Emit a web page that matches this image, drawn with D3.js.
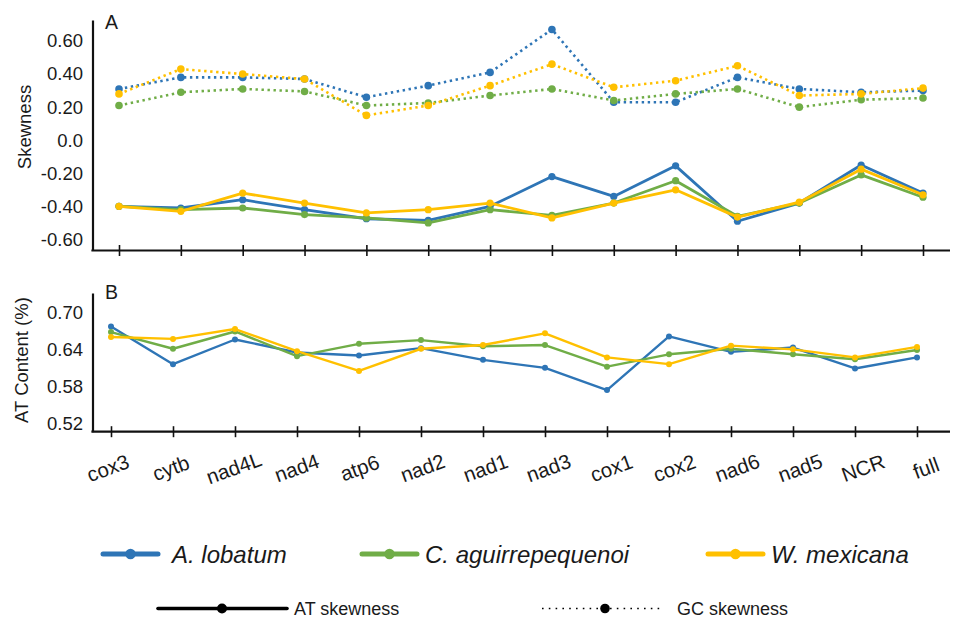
<!DOCTYPE html>
<html>
<head>
<meta charset="utf-8">
<script src="https://cdn.jsdelivr.net/npm/d3@7"></script>
<style>
  html, body { margin: 0; padding: 0; background: #fff; }
  svg { display: block; font-family: "Liberation Sans", Arial, sans-serif; }
</style>
</head>
<body>
<svg id="chart" width="959" height="617"></svg>
<script>
// ---------------- data ----------------
const categories = ["cox3","cytb","nad4L","nad4","atp6","nad2","nad1","nad3","cox1","cox2","nad6","nad5","NCR","full"];
const species = ["A. lobatum", "C. aguirrepequenoi", "W. mexicana"];
const speciesColors = ["#2E75B6", "#70AD47", "#FFC000"];

const atSkewLobatum  = [-0.40,-0.41,-0.36,-0.42,-0.475,-0.485,-0.40,-0.22,-0.34,-0.155,-0.49,-0.38,-0.15,-0.32];
const atSkewAguirre  = [-0.40,-0.42,-0.41,-0.45,-0.47,-0.50,-0.42,-0.455,-0.38,-0.245,-0.46,-0.38,-0.21,-0.345];
const atSkewMexicana = [-0.40,-0.43,-0.32,-0.38,-0.44,-0.42,-0.38,-0.47,-0.38,-0.30,-0.465,-0.375,-0.175,-0.33];

const gcSkewLobatum  = [0.31,0.38,0.38,0.37,0.26,0.33,0.41,0.67,0.23,0.23,0.38,0.31,0.29,0.30];
const gcSkewAguirre  = [0.21,0.29,0.31,0.295,0.21,0.225,0.27,0.31,0.24,0.28,0.31,0.20,0.245,0.255];
const gcSkewMexicana = [0.28,0.43,0.40,0.37,0.15,0.21,0.33,0.46,0.32,0.36,0.45,0.27,0.28,0.315];

const atContentLobatum  = [0.678,0.617,0.657,0.636,0.631,0.643,0.624,0.611,0.575,0.662,0.637,0.644,0.610,0.628];
const atContentAguirre  = [0.669,0.642,0.670,0.630,0.650,0.656,0.646,0.648,0.613,0.633,0.642,0.633,0.625,0.640];
const atContentMexicana = [0.661,0.658,0.674,0.638,0.606,0.642,0.648,0.667,0.628,0.617,0.647,0.641,0.628,0.645];

const skewTicks = [0.6, 0.4, 0.2, 0, -0.2, -0.4, -0.6];
const skewTickLabels = ["0.60","0.40","0.20","0.0","-0.20","-0.40","-0.60"];
const contentTicks = [0.70, 0.64, 0.58, 0.52];
const contentTickLabels = ["0.70","0.64","0.58","0.52"];

// ---------------- layout ----------------
const svg = d3.select("#chart");
const axisX = 92.5, axisRight = 950;
const textColor = "#1a1a1a";

const xA = d3.scalePoint().domain(categories).range([119, 923]);
const xB = d3.scalePoint().domain(categories).range([111, 917]);
const xLabel = d3.scalePoint().domain(categories).range([108, 926]);

const yA = d3.scaleLinear().domain([-0.667, 0.727]).range([250.5, 20]);
const yB = d3.scaleLinear().domain([0.5075, 0.7324]).range([431.7, 293]);

function drawPanel(x, y, bottom, top, ticks, tickLabels) {
  // y axis
  const gy = svg.append("g").attr("transform", `translate(${axisX},0)`)
    .call(d3.axisLeft(y).tickValues(ticks).tickSize(0).tickPadding(9.5)
      .tickFormat((d, i) => tickLabels[i]));
  gy.select(".domain").attr("stroke", "#111").attr("stroke-width", 2.2);
  gy.selectAll("text").attr("font-size", 18.5).attr("fill", textColor)
    .attr("font-family", "Liberation Sans, Arial, sans-serif");

  // x axis
  const gx = svg.append("g").attr("transform", `translate(0,${bottom})`)
    .call(d3.axisBottom(x).tickFormat("").tickSizeOuter(0));
  gx.select(".domain").remove();
  gx.selectAll(".tick line").attr("y1", -5.5).attr("y2", 5.5)
    .attr("stroke", "#111").attr("stroke-width", 1.6);
  svg.append("line").attr("x1", axisX - 1.1).attr("x2", axisRight)
    .attr("y1", bottom).attr("y2", bottom)
    .attr("stroke", "#111").attr("stroke-width", 2.2);
}

drawPanel(xA, yA, 250.5, 20, skewTicks, skewTickLabels);
drawPanel(xB, yB, 431.7, 293, contentTicks, contentTickLabels);

// panel letters
svg.append("text").attr("x", 105).attr("y", 28.5).text("A")
  .attr("font-size", 19.5).attr("fill", textColor);
svg.append("text").attr("x", 105).attr("y", 298.5).text("B")
  .attr("font-size", 19.5).attr("fill", textColor);

// axis titles
svg.append("text").attr("transform", "translate(31,127) rotate(-90)")
  .attr("text-anchor", "middle").attr("font-size", 18.5).attr("fill", textColor)
  .text("Skewness");
svg.append("text").attr("transform", "translate(28,360) rotate(-90)")
  .attr("text-anchor", "middle").attr("font-size", 18.5).attr("fill", textColor)
  .text("AT Content (%)");

// category labels
svg.append("g").selectAll("text").data(categories).join("text")
  .attr("transform", d => `translate(${xLabel(d)},468) rotate(-20)`)
  .attr("text-anchor", "middle").attr("dy", "0.35em")
  .attr("font-size", 20.5).attr("fill", textColor)
  .text(d => d);

// ---------------- series ----------------
function drawSeries(x, y, values, color, opts) {
  const line = d3.line().x((d, i) => x(categories[i])).y(d => y(d));
  const g = svg.append("g");
  const p = g.append("path").datum(values).attr("d", line)
    .attr("fill", "none").attr("stroke", color)
    .attr("stroke-width", opts.width).attr("stroke-linejoin", "round");
  if (opts.dash) p.attr("stroke-dasharray", opts.dash);
  g.selectAll("circle").data(values).join("circle")
    .attr("cx", (d, i) => x(categories[i])).attr("cy", d => y(d))
    .attr("r", opts.r).attr("fill", color);
}

const gcSeries = [gcSkewLobatum, gcSkewAguirre, gcSkewMexicana];
const atSeries = [atSkewLobatum, atSkewAguirre, atSkewMexicana];
const contentSeries = [atContentLobatum, atContentAguirre, atContentMexicana];

gcSeries.forEach((s, i) => drawSeries(xA, yA, s, speciesColors[i], {width: 2.6, dash: "2.4,3.6", r: 3.8}));
atSeries.forEach((s, i) => drawSeries(xA, yA, s, speciesColors[i], {width: 2.8, r: 3.6}));
contentSeries.forEach((s, i) => drawSeries(xB, yB, s, speciesColors[i], {width: 2.4, r: 3.0}));

// ---------------- legend ----------------
const legendItems = [
  {x1: 103, x2: 158, tx: 172},
  {x1: 362, x2: 417, tx: 425},
  {x1: 708, x2: 763, tx: 771}
];
const lg = svg.append("g");
species.forEach((name, i) => {
  const it = legendItems[i];
  lg.append("line").attr("x1", it.x1).attr("x2", it.x2).attr("y1", 554).attr("y2", 554)
    .attr("stroke", speciesColors[i]).attr("stroke-width", 5).attr("stroke-linecap", "round");
  lg.append("circle").attr("cx", (it.x1 + it.x2) / 2).attr("cy", 554).attr("r", 5.2)
    .attr("fill", speciesColors[i]);
  lg.append("text").attr("x", it.tx).attr("y", 562.5).attr("font-size", 24)
    .attr("font-style", "italic").attr("fill", textColor).text(name);
});

// line style legend
lg.append("line").attr("x1", 158).attr("x2", 287).attr("y1", 608.5).attr("y2", 608.5)
  .attr("stroke", "#000").attr("stroke-width", 3.6).attr("stroke-linecap", "round");
lg.append("circle").attr("cx", 222).attr("cy", 608.5).attr("r", 5).attr("fill", "#000");
lg.append("text").attr("x", 294).attr("y", 614.5).attr("font-size", 18).attr("fill", textColor)
  .text("AT skewness");

lg.append("line").attr("x1", 542).attr("x2", 663).attr("y1", 608.5).attr("y2", 608.5)
  .attr("stroke", "#000").attr("stroke-width", 1.6).attr("stroke-dasharray", "1.6,5.2");
lg.append("circle").attr("cx", 605).attr("cy", 608.5).attr("r", 4.8).attr("fill", "#000");
lg.append("text").attr("x", 677).attr("y", 614.5).attr("font-size", 18).attr("fill", textColor)
  .text("GC skewness");
</script>
</body>
</html>
